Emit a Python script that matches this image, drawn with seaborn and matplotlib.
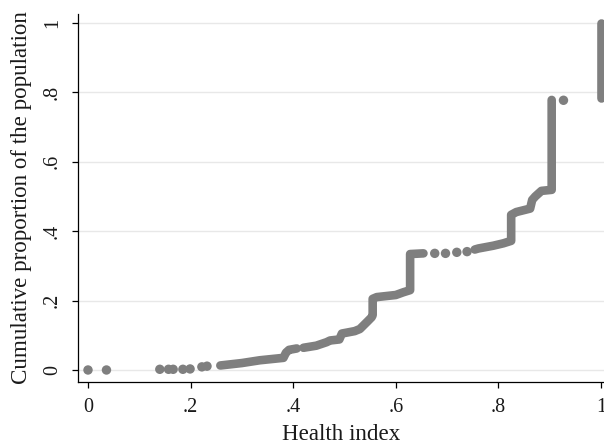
import numpy as np
import pandas as pd
import matplotlib
matplotlib.use("Agg")
import matplotlib.pyplot as plt
import seaborn as sns

# ---- data ----
# isolated observations (single dots)
dot_x = [0.0, 0.036, 0.140, 0.157, 0.166, 0.185, 0.199, 0.222, 0.232,
         0.676, 0.697, 0.719, 0.739, 0.927]
dot_y = [0.0, 0.0, 0.002, 0.002, 0.002, 0.002, 0.003, 0.009, 0.011,
         0.336, 0.336, 0.339, 0.341, 0.777]

# dense runs of observations (drawn as continuous thick paths)
run_x = [0.258, 0.300, 0.335, 0.381, 0.386, 0.392, 0.407,
         0.420, 0.445, 0.465, 0.472, 0.490, 0.495, 0.520, 0.530, 0.545, 0.553,
         0.555, 0.555, 0.563, 0.600, 0.615, 0.628, 0.628, 0.654,
         0.754, 0.761, 0.790, 0.810, 0.825, 0.825, 0.835, 0.862, 0.866, 0.872,
         0.884, 0.904, 0.904,
         1.0, 1.0]
run_y = [0.013, 0.020, 0.028, 0.035, 0.050, 0.058, 0.062,
         0.064, 0.070, 0.080, 0.085, 0.088, 0.105, 0.112, 0.118, 0.140, 0.152,
         0.158, 0.205, 0.210, 0.216, 0.224, 0.230, 0.334, 0.336,
         0.347, 0.350, 0.358, 0.365, 0.372, 0.447, 0.455, 0.465, 0.490, 0.500,
         0.516, 0.519, 0.778,
         0.785, 1.0]
run_id = [1] * 7 + [2] * 18 + [3] * 13 + [4] * 2

xticks = [0, 0.2, 0.4, 0.6, 0.8, 1.0]
xtick_labels = ["0", ".2", ".4", ".6", ".8", "1"]
yticks = [0, 0.2, 0.4, 0.6, 0.8, 1.0]
ytick_labels = ["0", ".2", ".4", ".6", ".8", "1"]

# ---- style ----
sns.set_theme(style="white")
plt.rcParams["font.family"] = ["Liberation Serif", "DejaVu Serif"]

gray = "#7f7f7f"

fig = plt.figure(figsize=(6.04, 4.45), dpi=100)
ax = fig.add_axes([78 / 604, 1 - 382 / 445, 1 - 78 / 604, (382 - 13.5) / 445])

runs = pd.DataFrame({"x": run_x, "y": run_y, "run": run_id})
sns.lineplot(data=runs, x="x", y="y", units="run", estimator=None, sort=False,
             color=gray, lw=6.2, solid_capstyle="round", solid_joinstyle="round",
             legend=False, ax=ax, zorder=3)
sns.scatterplot(x=dot_x, y=dot_y, s=46, color=gray, edgecolor="none",
                linewidth=0, ax=ax, zorder=3)

ax.set_xlim(-0.0195, 1.006)
ax.set_ylim(-0.0346, 1.027)

ax.set_xticks(xticks)
ax.set_xticklabels(xtick_labels)
ax.set_yticks(yticks)
ax.set_yticklabels(ytick_labels, rotation=90, va="center")

ax.grid(axis="y", color="#e8e8e8", lw=1.0, zorder=0)
ax.grid(axis="x", visible=False)
ax.set_axisbelow(True)

for s in ["top", "right"]:
    ax.spines[s].set_visible(False)
for s in ["left", "bottom"]:
    ax.spines[s].set_color("black")
    ax.spines[s].set_linewidth(0.9)

ax.tick_params(axis="both", which="major", direction="out", length=4.5,
               width=0.9, color="black", labelsize=14.5, labelcolor="#1a1a1a",
               bottom=True, left=True, pad=7)

ax.set_xlabel("Health index", fontsize=16.6, color="#1a1a1a", labelpad=5)
ax.set_ylabel("Cumulative proportion of the population", fontsize=16.6,
              color="#1a1a1a", labelpad=8)

fig.savefig("out.png", dpi=100)
